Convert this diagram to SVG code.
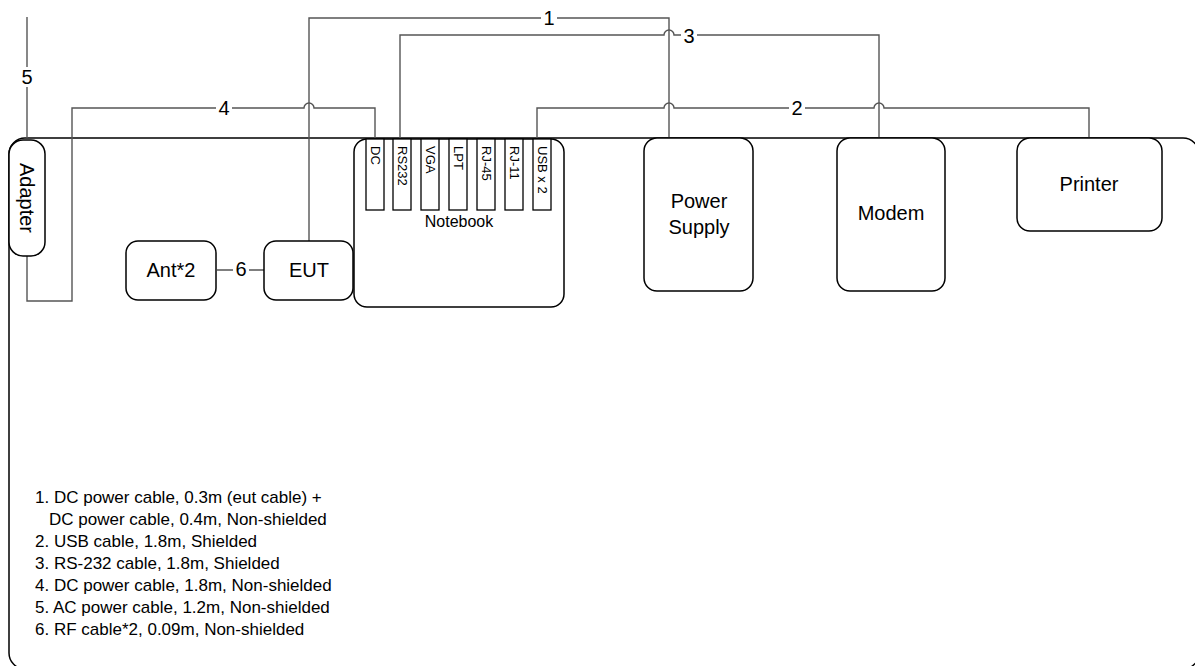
<svg xmlns="http://www.w3.org/2000/svg" width="1195" height="666" viewBox="0 0 1195 666">
<style>
.box{fill:#fff;stroke:#000;stroke-width:1.5}
.port{fill:#fff;stroke:#000;stroke-width:1.3}
.wire{fill:none;stroke:#555;stroke-width:1.4}
.t{font-family:"Liberation Sans",Arial,sans-serif;fill:#000}
.lbl{font-size:20px;text-anchor:middle}
.cl{font-size:20px;text-anchor:middle;dominant-baseline:central}
.pt{font-size:13px}
.lg{font-size:17px}
.bg{fill:#fff}
</style>
<rect id="frame" x="9" y="138" width="1190" height="531" rx="16" fill="#fff" stroke="#000" stroke-width="1.5"/>
<g id="connectors">
  <!-- 5 -->
  <path class="wire" d="M27 17 V138"/>
  <rect class="bg" x="19" y="67" width="16" height="20"/>
  <text class="t cl" x="27" y="77">5</text>
  <!-- 4 -->
  <path class="wire" d="M27 256 V301 H72 V108 H304 A5 5 0 0 1 314 108 H375 V139"/>
  <rect class="bg" x="216" y="98" width="16" height="20"/>
  <text class="t cl" x="224" y="108">4</text>
  <!-- 1 -->
  <path class="wire" d="M309 241 V18 H669 V138"/>
  <rect class="bg" x="541" y="8" width="16" height="20"/>
  <text class="t cl" x="549" y="18">1</text>
  <!-- 3 -->
  <path class="wire" d="M400 139 V35 H664 A5 5 0 0 1 674 35 H879 V138"/>
  <rect class="bg" x="681" y="25" width="16" height="20"/>
  <text class="t cl" x="689" y="36">3</text>
  <!-- 2 -->
  <path class="wire" d="M537 139 V108 H664 A5 5 0 0 1 674 108 H874 A5 5 0 0 1 884 108 H1089 V138"/>
  <rect class="bg" x="789" y="98" width="16" height="20"/>
  <text class="t cl" x="797" y="108">2</text>
  <!-- 6 -->
  <path class="wire" d="M217 270 H264"/>
  <rect class="bg" x="233" y="260" width="16" height="20"/>
  <text class="t cl" x="241" y="269">6</text>
</g>
<g id="adapter">
  <rect class="box" x="9" y="140" width="36" height="116" rx="14"/>
  <text class="t lbl" transform="translate(20 198) rotate(90)" x="0" y="0">Adapter</text>
</g>
<g id="ant">
  <rect class="box" x="126" y="241" width="90" height="59" rx="12"/>
  <text class="t lbl" x="171" y="277">Ant*2</text>
</g>
<g id="eut">
  <rect class="box" x="264" y="241" width="89" height="59" rx="12"/>
  <text class="t lbl" x="309" y="277">EUT</text>
</g>
<g id="notebook">
  <rect class="box" x="354" y="139" width="210" height="168" rx="13"/>
  <rect class="port" x="366" y="139" width="18" height="71"/>
  <rect class="port" x="393" y="139" width="18" height="71"/>
  <rect class="port" x="421" y="139" width="18" height="71"/>
  <rect class="port" x="449" y="139" width="18" height="71"/>
  <rect class="port" x="477" y="139" width="18" height="71"/>
  <rect class="port" x="505" y="139" width="18" height="71"/>
  <rect class="port" x="533" y="139" width="18" height="71"/>
  <text class="t pt" transform="translate(370.5 146) rotate(90)">DC</text>
  <text class="t pt" transform="translate(397.5 146) rotate(90)">RS232</text>
  <text class="t pt" transform="translate(425.5 146) rotate(90)">VGA</text>
  <text class="t pt" transform="translate(453.5 146) rotate(90)">LPT</text>
  <text class="t pt" transform="translate(481.5 146) rotate(90)">RJ-45</text>
  <text class="t pt" transform="translate(509.5 146) rotate(90)">RJ-11</text>
  <text class="t pt" transform="translate(537.5 146) rotate(90)">USB x 2</text>
  <text class="t" x="459" y="227" font-size="16" text-anchor="middle">Notebook</text>
</g>
<g id="power">
  <rect class="box" x="644" y="138" width="109" height="153" rx="13"/>
  <text class="t lbl" x="699" y="208">Power</text>
  <text class="t lbl" x="699" y="234">Supply</text>
</g>
<g id="modem">
  <rect class="box" x="837" y="138" width="108" height="153" rx="13"/>
  <text class="t lbl" x="891" y="220">Modem</text>
</g>
<g id="printer">
  <rect class="box" x="1017" y="138" width="145" height="93" rx="13"/>
  <text class="t lbl" x="1089" y="191">Printer</text>
</g>
<g id="legend" class="t lg">
  <text x="35" y="503">1. DC power cable, 0.3m (eut cable) +</text>
  <text x="49" y="525">DC power cable, 0.4m, Non-shielded</text>
  <text x="35" y="547">2. USB cable, 1.8m, Shielded</text>
  <text x="35" y="569">3. RS-232 cable, 1.8m, Shielded</text>
  <text x="35" y="591">4. DC power cable, 1.8m, Non-shielded</text>
  <text x="35" y="613">5. AC power cable, 1.2m, Non-shielded</text>
  <text x="35" y="635">6. RF cable*2, 0.09m, Non-shielded</text>
</g>
</svg>
